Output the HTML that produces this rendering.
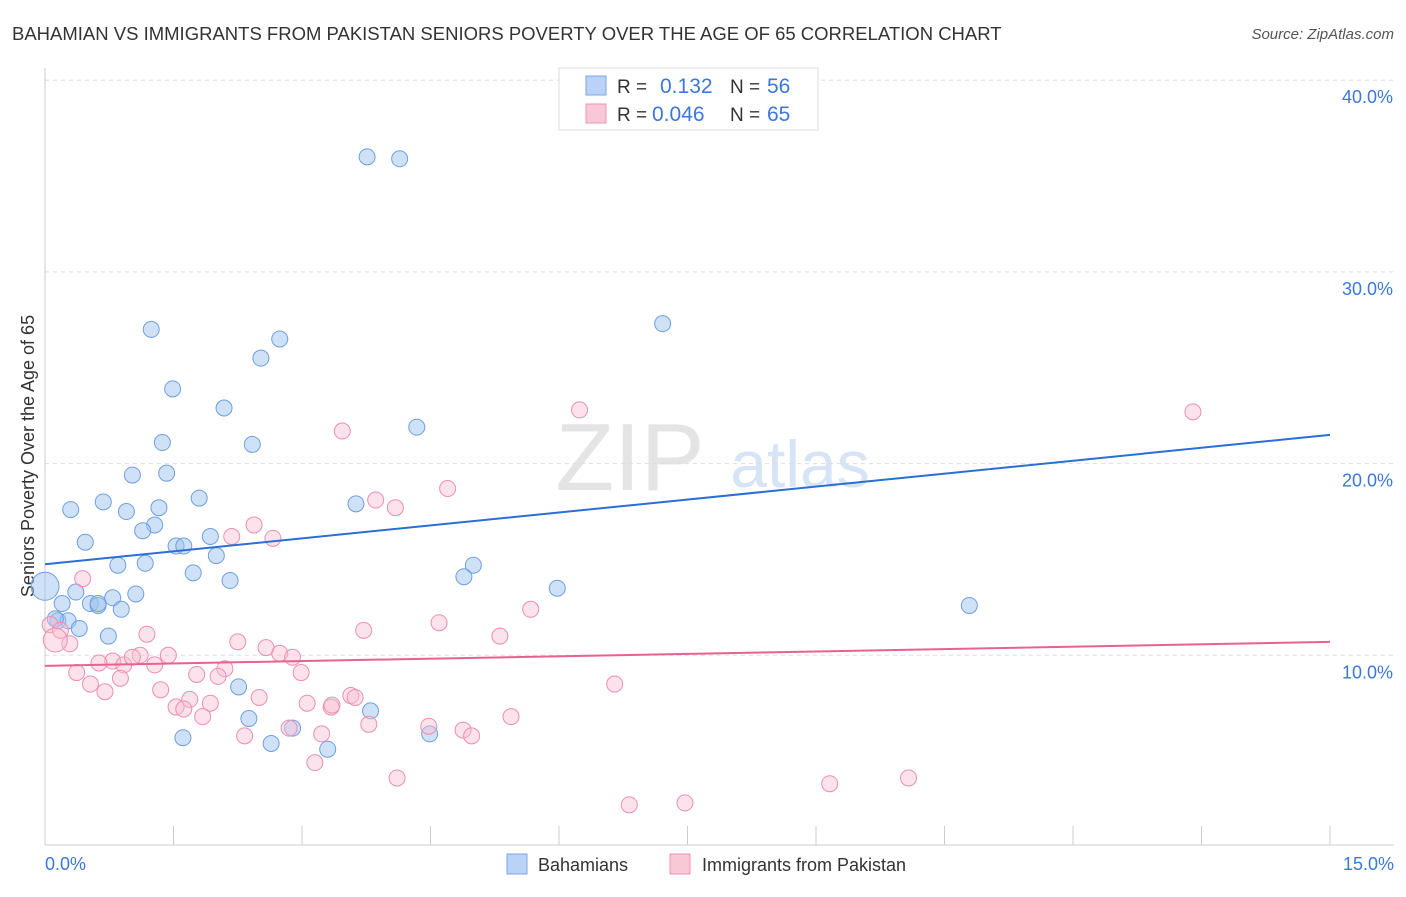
<!DOCTYPE html>
<html><head><meta charset="utf-8"><style>
body{margin:0;background:#fff;font-family:"Liberation Sans",sans-serif;}
svg text{font-family:"Liberation Sans",sans-serif;}
</style></head><body>
<svg id="chart" width="1406" height="892">
<text x="12" y="40" font-size="18.5" fill="#333">BAHAMIAN VS IMMIGRANTS FROM PAKISTAN SENIORS POVERTY OVER THE AGE OF 65 CORRELATION CHART</text>
<text x="1394" y="39" font-size="15" fill="#555" text-anchor="end" font-style="italic">Source: ZipAtlas.com</text>
<text x="630" y="490" font-size="96" fill="#e4e4e4" font-family="Liberation Serif" text-anchor="middle">ZIP</text>
<text x="800" y="487" font-size="66" fill="#d6e4f5" text-anchor="middle">atlas</text>
<g id="grid"></g>
<line x1="45" y1="68" x2="45" y2="845" stroke="#ccc"/>
<line x1="45" y1="845" x2="1394" y2="845" stroke="#ccc"/>
<g id="xticks"></g>
<text transform="translate(34,456) rotate(-90)" font-size="18" fill="#333" text-anchor="middle">Seniors Poverty Over the Age of 65</text>
<text x="45" y="870" font-size="18" fill="#3b78d8">0.0%</text>
<text x="1394" y="870" font-size="18" fill="#3b78d8" text-anchor="end">15.0%</text>
<g id="pts"></g>
<g id="lines"></g>
<g>
<rect x="559" y="68" width="259" height="62" fill="#fff" stroke="#ddd"/>
<rect x="586" y="76" width="20" height="19" fill="#b9d2f5" stroke="#7aa6e6"/>
<rect x="586" y="104" width="20" height="19" fill="#f9c8d7" stroke="#ec93b1"/>
<text x="617" y="93" font-size="19" fill="#333">R =</text><text x="660" y="93" font-size="21" fill="#3b78d8">0.132</text>
<text x="730" y="93" font-size="19" fill="#333">N =</text><text x="767" y="93" font-size="21" fill="#3b78d8">56</text>
<text x="617" y="121" font-size="19" fill="#333">R =</text><text x="652" y="121" font-size="21" fill="#3b78d8">0.046</text>
<text x="730" y="121" font-size="19" fill="#333">N =</text><text x="767" y="121" font-size="21" fill="#3b78d8">65</text>
</g>
<g>
<rect x="507" y="854" width="20" height="20" fill="#b9d2f5" stroke="#7aa6e6"/>
<text x="538" y="871" font-size="18" fill="#333">Bahamians</text>
<rect x="670" y="854" width="20" height="20" fill="#f9c8d7" stroke="#ec93b1"/>
<text x="702" y="871" font-size="18" fill="#333">Immigrants from Pakistan</text>
</g>
</svg>
<script>
const yTicks=[10,20,30,40];
const xTickVals=[0,1.5,3,4.5,6,7.5,9,10.5,12,13.5,15];
const blueX=[3.76,4.14,1.24,2.74,7.21,2.52,1.49,2.09,4.34,1.37,2.42,1.02,1.42,0.68,1.8,0.30,0.95,1.33,3.63,1.28,1.14,0.47,1.93,1.53,1.62,0.85,1.17,2.0,5.0,4.89,1.73,2.16,5.98,0.0,1.06,0.36,0.79,0.2,0.53,0.62,0.89,10.79,0.15,0.27,0.4,0.74,2.26,2.38,3.8,1.61,2.64,2.89,3.3,4.49,0.12,0.62];
const blueY=[36.0,35.9,27.0,26.5,27.3,25.5,23.9,22.9,21.9,21.1,21.0,19.4,19.5,18.0,18.2,17.6,17.5,17.7,17.9,16.8,16.5,15.9,16.2,15.7,15.7,14.7,14.8,15.2,14.7,14.1,14.3,13.9,13.5,13.6,13.2,13.3,13.0,12.7,12.7,12.6,12.4,12.6,11.8,11.8,11.4,11.0,8.35,6.7,7.1,5.7,5.4,6.2,5.1,5.9,11.9,12.7];
const pinkX=[13.4,6.24,3.47,4.7,3.86,4.09,2.44,2.18,2.66,0.44,5.67,4.6,3.72,5.31,1.19,0.06,0.18,0.29,0.12,2.25,2.58,2.74,2.89,1.11,0.79,0.92,1.02,1.44,1.28,0.63,2.1,0.37,1.77,2.02,2.99,0.88,0.53,0.7,1.35,6.65,2.5,3.57,3.62,1.69,3.06,1.93,1.53,1.62,3.34,3.35,1.84,5.44,3.78,4.48,4.88,2.85,3.23,2.33,4.98,3.15,4.11,9.16,10.08,6.82,7.47];
const pinkY=[22.7,22.8,21.7,18.7,18.1,17.7,16.8,16.2,16.1,14.0,12.4,11.7,11.3,11.0,11.1,11.6,11.3,10.6,10.8,10.7,10.4,10.1,9.9,10.0,9.7,9.5,9.9,10.0,9.5,9.6,9.3,9.1,9.0,8.9,9.1,8.8,8.5,8.1,8.2,8.5,7.8,7.9,7.8,7.7,7.5,7.5,7.3,7.2,7.3,7.4,6.8,6.8,6.4,6.3,6.1,6.2,5.9,5.8,5.8,4.4,3.6,3.3,3.6,2.2,2.3];
const blueTrend=[14.75,21.5];
const pinkTrend=[9.45,10.7];
const ns="http://www.w3.org/2000/svg";
const X=v=>45+v/15*1285, Y=v=>847-v*19.17;
function mk(tag,attrs,parent){const e=document.createElementNS(ns,tag);for(const k in attrs)e.setAttribute(k,attrs[k]);document.getElementById(parent).appendChild(e);return e;}
yTicks.forEach(t=>{
 const l=mk('line',{x1:45,x2:1394,y1:Y(t),y2:Y(t),stroke:'#ddd','stroke-dasharray':'4,4'},'grid');
 
 
 const tx=mk('text',{x:1393,y:Y(t)+23,'font-size':18,fill:'#3b78d8','text-anchor':'end'},'grid');tx.textContent=t.toFixed(1)+'%';
 
 
});
xTickVals.forEach(t=>{
 const l=mk('line',{x1:X(t),x2:X(t),y1:826,y2:845,stroke:'#ccc'},'xticks');
 
 
});
blueX.forEach((v,i)=>{
 const c=mk('circle',{cx:X(v),cy:Y(blueY[i]),r:i==33?14:8,fill:'rgba(160,195,240,0.5)',stroke:'#6e9fe0','stroke-width':1},'pts');
 
 
});
pinkX.forEach((v,i)=>{
 const c=mk('circle',{cx:X(v),cy:Y(pinkY[i]),r:i==18?12:8,fill:'rgba(248,190,210,0.45)',stroke:'#eb8fae','stroke-width':1},'pts');
 
 
});
const bl=mk('line',{x1:X(0),y1:Y(blueTrend[0]),x2:X(15),y2:Y(blueTrend[1]),stroke:'#2b6fd6','stroke-width':2},'lines');


const pl=mk('line',{x1:X(0),y1:Y(pinkTrend[0]),x2:X(15),y2:Y(pinkTrend[1]),stroke:'#e8628f','stroke-width':2},'lines');


</script>
</body></html>
